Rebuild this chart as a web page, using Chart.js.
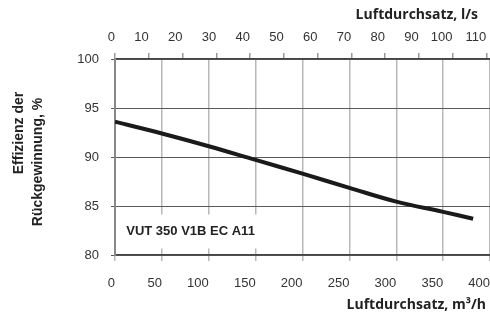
<!DOCTYPE html>
<html>
<head>
<meta charset="utf-8">
<script src="https://cdn.jsdelivr.net/npm/chart.js@4/dist/chart.umd.min.js"></script>
<style>
html,body{margin:0;padding:0;background:#fff;}
#wrap{width:490px;height:316px;}
</style>
</head>
<body>
<div id="wrap"><canvas id="c" width="490" height="316"></canvas></div>
<script>
// ---- data ----
const flowM3h = [0, 50, 100, 150, 200, 250, 300, 350, 382];
const efficiency = [93.6, 92.4, 91.1, 89.7, 88.3, 86.85, 85.45, 84.4, 83.7];
const xTicksM3h = [0, 50, 100, 150, 200, 250, 300, 350, 400];
const xTicksLs = [0, 10, 20, 30, 40, 50, 60, 70, 80, 90, 100, 110];
const yTicks = [80, 85, 90, 95, 100];
const seriesLabel = "VUT 350 V1B EC A11";
const yTitleLines = ["Effizienz der", "Rückgewinnung, %"];
const xTitleBottom = "Luftdurchsatz, m\u00B3/h";
const xTitleTop = "Luftdurchsatz, l/s";

const tickFont = {family: "'Liberation Sans', Arial, sans-serif", size: 13};

const textPlugin = {
  id: 'texts',
  afterDraw(chart) {
    const ctx = chart.ctx;
    const xs = chart.scales.x, ys = chart.scales.y;
    ctx.save();
    // series label with white box
    ctx.font = "bold 13px 'Liberation Sans', Arial, sans-serif";
    const lx = xs.getPixelForValue(12), ly = ys.getPixelForValue(82.4);
    const w = ctx.measureText(seriesLabel).width;
    ctx.fillStyle = '#fff';
    ctx.fillRect(lx - 6, ly - 17, w + 12, 34);
    ctx.fillStyle = '#222';
    ctx.textAlign = 'left';
    ctx.textBaseline = 'middle';
    ctx.fillText(seriesLabel, lx, ly);
    // axis titles
    ctx.font = "bold 14px 'Open Sans', sans-serif";
    ctx.textAlign = 'right';
    ctx.fillText(xTitleTop, 478, 15);
    ctx.fillText(xTitleBottom, 486, 305);
    ctx.font = "bold 14px 'Liberation Sans', Arial, sans-serif";
    ctx.textAlign = 'center';
    ctx.save();
    ctx.translate(19, 133); ctx.rotate(-Math.PI / 2);
    ctx.fillText(yTitleLines[0], 0, 0);
    ctx.restore();
    ctx.save();
    ctx.translate(38, 162); ctx.rotate(-Math.PI / 2);
    ctx.fillText(yTitleLines[1], 0, 0);
    ctx.restore();
    ctx.restore();
  }
};

function fitX(h) {
  return s => { s.height = h; s.paddingLeft = 0; s.paddingRight = 0; };
}

new Chart(document.getElementById('c'), {
  type: 'scatter',
  data: {
    datasets: [{
      data: flowM3h.map((x, i) => ({x: x, y: efficiency[i]})),
      showLine: true,
      borderColor: '#1a1a1a',
      borderWidth: 4,
      pointRadius: 0,
      tension: 0.4,
      xAxisID: 'x', yAxisID: 'y'
    }]
  },
  options: {
    responsive: false,
    animation: false,
    layout: {padding: 0},
    plugins: {legend: {display: false}, tooltip: {enabled: false}},
    scales: {
      x: {
        type: 'linear', position: 'bottom', min: 0, max: 400,
        afterBuildTicks: s => { s.ticks = xTicksM3h.map(v => ({value: v})); },
        afterFit: fitX(61),
        ticks: {font: tickFont, color: '#333', align: 'end', padding: 15, maxRotation: 0},
        grid: {color: '#b8b8b8', lineWidth: 1.5, tickLength: 6},
        border: {color: '#444', width: 1.5}
      },
      x2: {
        type: 'linear', position: 'top', min: 0, max: 400 / 3.6,
        afterBuildTicks: s => { s.ticks = xTicksLs.map(v => ({value: v})); },
        afterFit: fitX(59),
        ticks: {font: tickFont, color: '#333', align: 'end', padding: 8, maxRotation: 0},
        grid: {drawOnChartArea: false, color: '#999', lineWidth: 1.5, tickLength: 6},
        border: {color: '#444', width: 1.5}
      },
      y: {
        type: 'linear', position: 'left', min: 80, max: 100,
        afterBuildTicks: s => { s.ticks = yTicks.map(v => ({value: v})); },
        afterFit: s => { s.width = 115; },
        ticks: {font: tickFont, color: '#333', padding: 12},
        grid: {color: '#5a5a5a', lineWidth: 1, tickLength: 4},
        border: {color: '#888', width: 2}
      }
    }
  },
  plugins: [textPlugin]
});
</script>
</body>
</html>
